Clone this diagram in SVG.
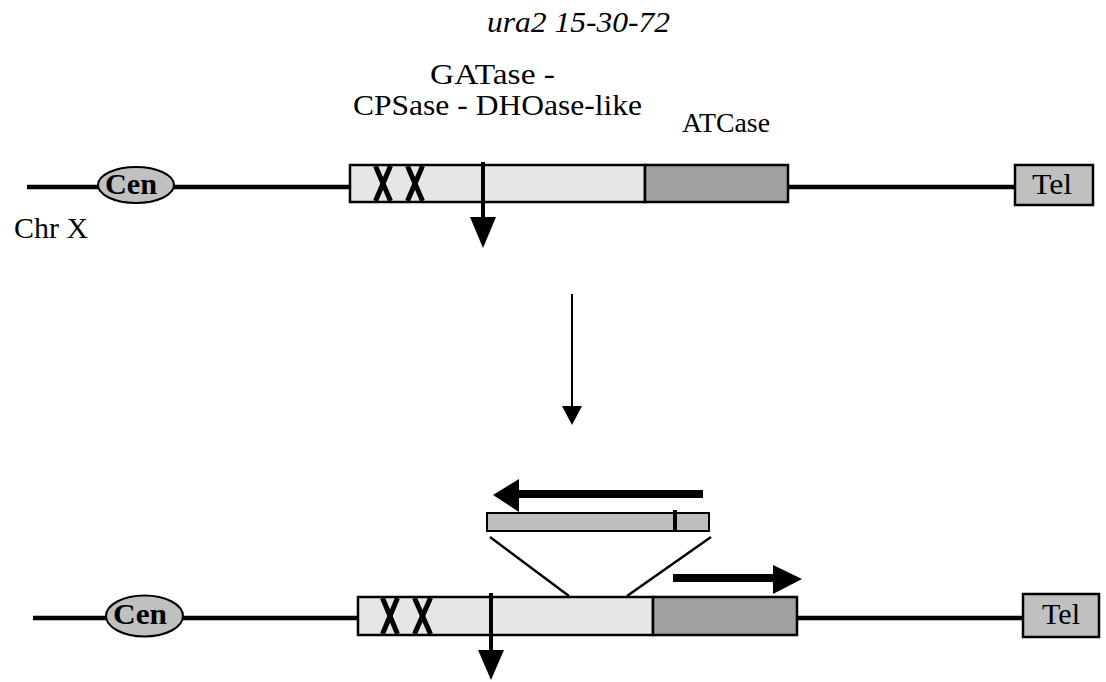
<svg xmlns="http://www.w3.org/2000/svg" width="1106" height="682" viewBox="0 0 1106 682">
<style>
text{font-family:"Liberation Serif","Times New Roman",serif;font-size:30px;fill:#000}
.it{font-style:italic}
.b{font-weight:bold}
.sm{font-size:28px}
.chr{stroke:#000;stroke-width:4.5;fill:none}
.box{stroke:#000;stroke-width:2.5}
.light{fill:#e6e6e6}
.dark{fill:#a0a0a0}
.mid{fill:#c0c0c0}
.xm{stroke:#000;stroke-width:5;stroke-linecap:butt}
.ln{stroke:#000;fill:none}
.head{fill:#000}
</style>
<rect width="1106" height="682" fill="#fff"/>
<g id="labels">
<text class="it" x="487" y="32" textLength="183" lengthAdjust="spacingAndGlyphs">ura2 15-30-72</text>
<text x="430" y="84" textLength="125" lengthAdjust="spacingAndGlyphs">GATase -</text>
<text x="353" y="115" textLength="289" lengthAdjust="spacingAndGlyphs">CPSase - DHOase-like</text>
<text class="sm" x="682" y="132" textLength="88" lengthAdjust="spacingAndGlyphs">ATCase</text>
<text x="14" y="238" textLength="74" lengthAdjust="spacingAndGlyphs">Chr X</text>
</g>
<g id="chr-top">
<line class="chr" x1="27" y1="187" x2="1015" y2="187"/>
</g>
<g id="cen-top">
<ellipse class="mid" cx="136" cy="185" rx="38" ry="18" stroke="#000" stroke-width="2"/>
<text class="b" x="105" y="194" textLength="52" lengthAdjust="spacingAndGlyphs">Cen</text>
</g>
<g id="gene-top">
<rect class="box light" x="350" y="165" width="295" height="37"/>
<line class="xm" x1="375.5" y1="166" x2="390.5" y2="201"/>
<line class="xm" x1="390.5" y1="166" x2="375.5" y2="201"/>
<line class="xm" x1="407.5" y1="166" x2="422.5" y2="201"/>
<line class="xm" x1="422.5" y1="166" x2="407.5" y2="201"/>
</g>
<g id="atcase-top">
<rect class="box dark" x="645" y="165" width="143" height="37"/>
</g>
<g id="tel-top">
<rect class="box mid" x="1015" y="165" width="78" height="40"/>
<text x="1032" y="194" textLength="40" lengthAdjust="spacingAndGlyphs">Tel</text>
</g>
<g id="chr-bottom">
<line class="chr" x1="33" y1="618" x2="1023" y2="618"/>
</g>
<g id="cen-bottom">
<ellipse class="mid" cx="144.5" cy="616" rx="38.5" ry="20.5" stroke="#000" stroke-width="2"/>
<text class="b" x="113" y="624" textLength="54" lengthAdjust="spacingAndGlyphs">Cen</text>
</g>
<g id="gene-bottom">
<rect class="box light" x="358" y="597" width="295" height="38"/>
<line class="xm" x1="382.5" y1="598" x2="397.5" y2="634"/>
<line class="xm" x1="397.5" y1="598" x2="382.5" y2="634"/>
<line class="xm" x1="414.5" y1="598" x2="430.5" y2="634"/>
<line class="xm" x1="430.5" y1="598" x2="414.5" y2="634"/>
</g>
<g id="atcase-bottom">
<rect class="box dark" x="653" y="597" width="144" height="38"/>
</g>
<g id="tel-bottom">
<rect class="box mid" x="1023" y="594" width="76" height="43"/>
<text x="1042" y="624" textLength="38" lengthAdjust="spacingAndGlyphs">Tel</text>
</g>
<g id="insert">
<rect x="487" y="513" width="222" height="18" fill="#bdbdbd" stroke="#000" stroke-width="2"/>
<line class="ln" x1="675" y1="510" x2="675" y2="531" stroke-width="4"/>
</g>
<g id="connectors">
<line class="ln" x1="483" y1="162" x2="483" y2="219" stroke-width="4"/>
<polygon class="head" points="470,217 496,217 483,248"/>
<line class="ln" x1="572" y1="294" x2="572" y2="408" stroke-width="2"/>
<polygon class="head" points="562,406 582,406 572,425"/>
<line class="ln" x1="491" y1="593" x2="491" y2="652" stroke-width="4"/>
<polygon class="head" points="478,650 504,650 491,680"/>
<line class="ln" x1="703" y1="494" x2="517" y2="494" stroke-width="8"/>
<polygon class="head" points="519,479 519,512 493,495"/>
<line class="ln" x1="673" y1="578" x2="775" y2="578" stroke-width="8"/>
<polygon class="head" points="773,565 773,594 802,579"/>
<line class="ln" x1="490" y1="537" x2="569" y2="596" stroke-width="2.5"/>
<line class="ln" x1="711" y1="537" x2="627" y2="596" stroke-width="2.5"/>
</g>
</svg>
